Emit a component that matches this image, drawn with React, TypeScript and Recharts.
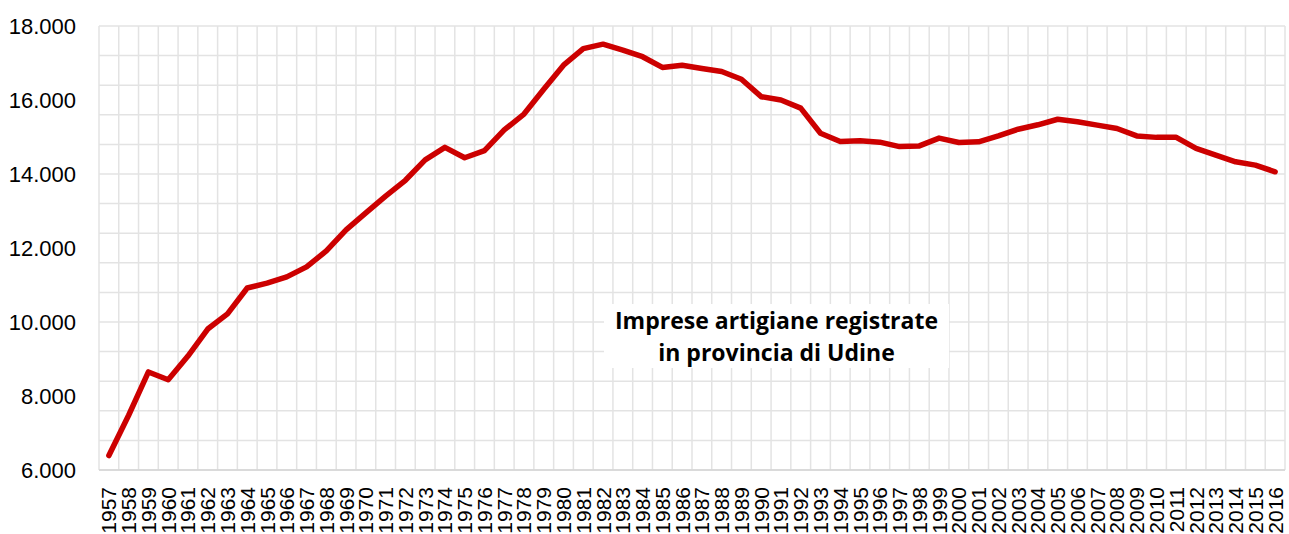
import { CartesianGrid, Line, LineChart, XAxis, YAxis } from "recharts";

const years = [
  1957, 1958, 1959, 1960, 1961, 1962, 1963, 1964, 1965, 1966,
  1967, 1968, 1969, 1970, 1971, 1972, 1973, 1974, 1975, 1976,
  1977, 1978, 1979, 1980, 1981, 1982, 1983, 1984, 1985, 1986,
  1987, 1988, 1989, 1990, 1991, 1992, 1993, 1994, 1995, 1996,
  1997, 1998, 1999, 2000, 2001, 2002, 2003, 2004, 2005, 2006,
  2007, 2008, 2009, 2010, 2011, 2012, 2013, 2014, 2015, 2016,
];

const imprese = [
  6390, 7480, 8650, 8440, 9080, 9810, 10220, 10920, 11050, 11220,
  11490, 11920, 12490, 12950, 13400, 13830, 14380, 14720, 14440, 14630,
  15190, 15620, 16290, 16940, 17390, 17510, 17350, 17170, 16880, 16940,
  16850, 16770, 16560, 16090, 16000, 15780, 15100, 14880, 14900, 14860,
  14740, 14760, 14970, 14850, 14870, 15030, 15210, 15330, 15480, 15410,
  15320, 15230, 15030, 14990, 14990, 14690, 14510, 14330, 14240, 14060,
];

const yTicks = [6000, 8000, 10000, 12000, 14000, 16000, 18000];
const yMinor = [
  6000, 6400, 6800, 7200, 7600, 8000, 8400, 8800, 9200, 9600,
  10000, 10400, 10800, 11200, 11600, 12000, 12400, 12800, 13200, 13600,
  14000, 14400, 14800, 15200, 15600, 16000, 16400, 16800, 17200, 17600, 18000,
];
// grid lines sit between the categories, like Excel
const yearEdges = [...years.map((y) => y - 0.5), years[years.length - 1] + 0.5];

const data = years.map((anno, i) => ({ anno, imprese: imprese[i] }));

const fmt = (v: number) => String(v).replace(/\B(?=(\d{3})+(?!\d))/g, ".");

function YearTick({ x, y, payload }: any) {
  return (
    <text
      x={x}
      y={y}
      transform={`rotate(-90, ${x}, ${y})`}
      textAnchor="end"
      dominantBaseline="central"
      fontSize={21}
      fill="#000"
      fontFamily="'Liberation Sans', Arial, sans-serif"
    >
      {payload.value}
    </text>
  );
}

export default function App() {
  return (
    <div style={{ position: "absolute", left: 0, top: 0, width: 1289, height: 534, background: "#fff" }}>
      <LineChart width={1289} height={534} data={data} margin={{ top: 26, right: 4, bottom: 0, left: 0 }}>
        <CartesianGrid stroke="#e3e3e3" strokeWidth={1.5} horizontalValues={yMinor} verticalValues={yearEdges} />
        <XAxis
          dataKey="anno"
          type="number"
          domain={[1956.5, 2016.5]}
          ticks={years}
          interval={0}
          height={64}
          tickLine={false}
          tickSize={0}
          tickMargin={17}
          axisLine={{ stroke: "#d4d4d4", strokeWidth: 1.5 }}
          tick={<YearTick />}
        />
        <YAxis
          domain={[6000, 18000]}
          ticks={yTicks}
          width={99}
          axisLine={false}
          tickLine={false}
          tickSize={0}
          tickMargin={23}
          tickFormatter={fmt}
          tick={{ fontSize: 22, fill: "#000", fontFamily: "'Liberation Sans', Arial, sans-serif" }}
        />
        <Line
          type="linear"
          dataKey="imprese"
          stroke="#cc0000"
          strokeWidth={5.5}
          strokeLinejoin="round"
          strokeLinecap="round"
          dot={false}
          isAnimationActive={false}
        />
      </LineChart>
      <div
        style={{
          position: "absolute",
          left: 604,
          top: 304,
          width: 345,
          height: 64,
          background: "#fff",
          textAlign: "center",
          fontFamily: "'Open Sans', Lato, sans-serif",
          fontWeight: 700,
          fontSize: 23,
          lineHeight: "32px",
          color: "#000",
        }}
      >
        Imprese artigiane registrate
        <br />
        in provincia di Udine
      </div>
    </div>
  );
}
